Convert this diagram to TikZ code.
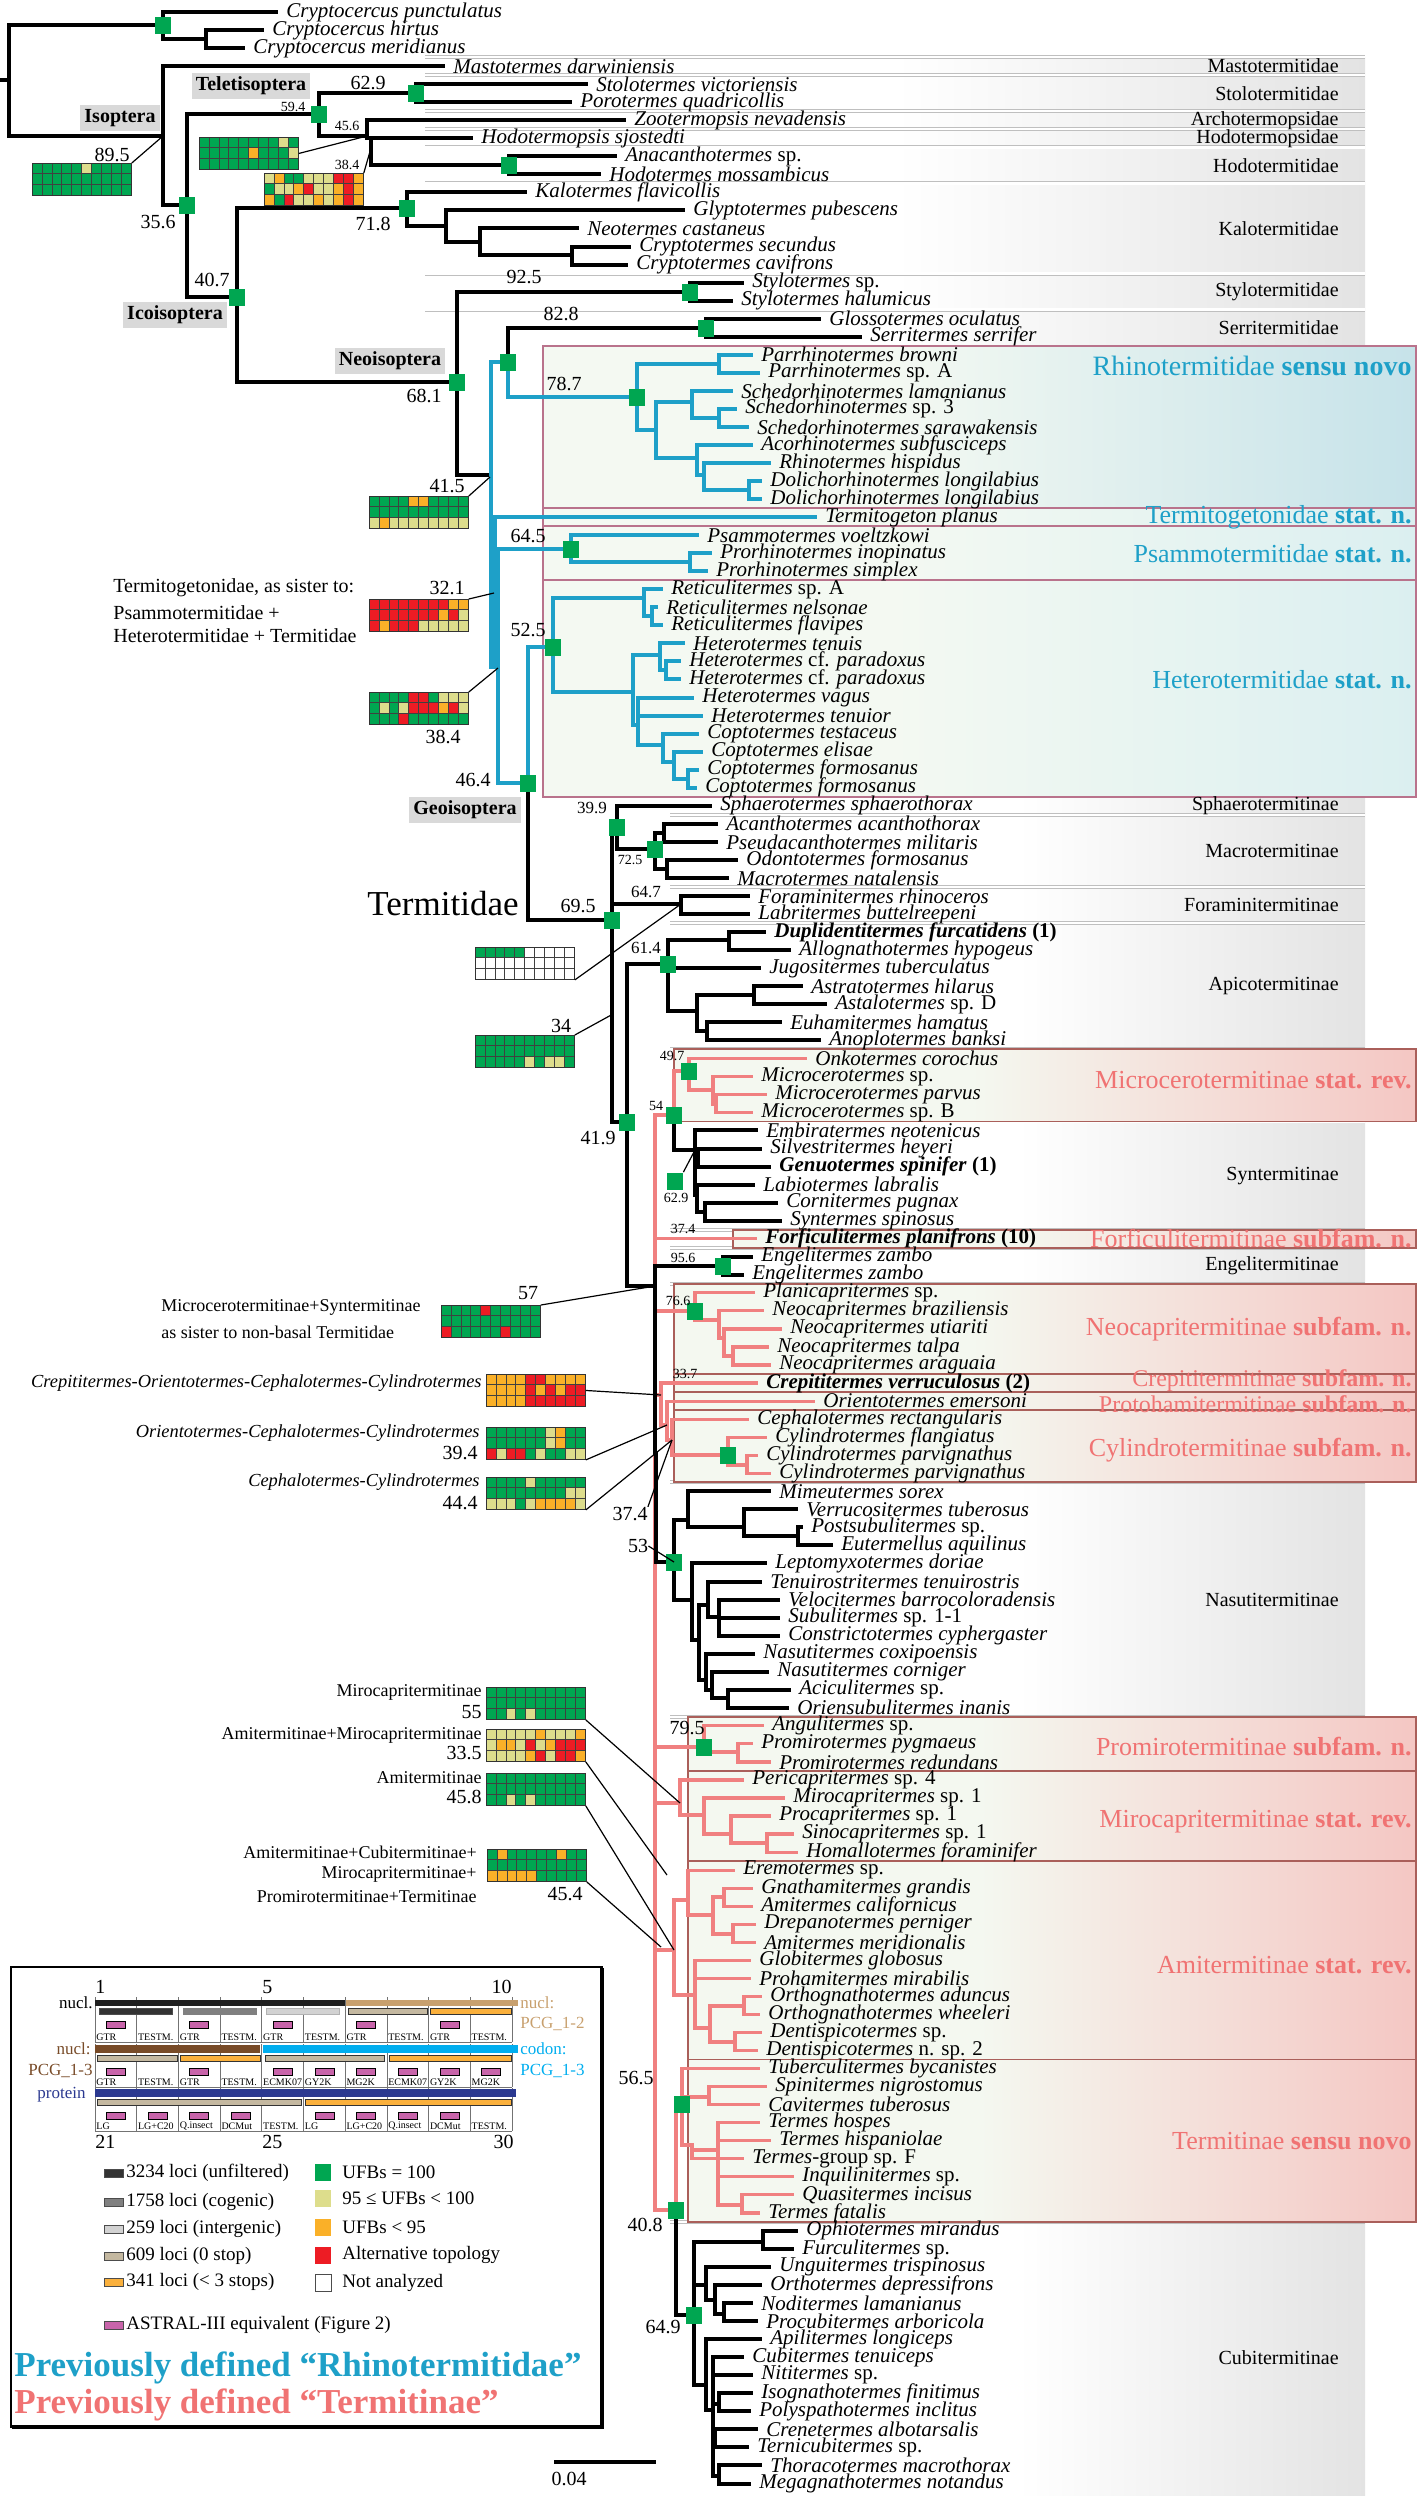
\documentclass[tikz,border=0pt]{standalone}
\usepackage{fontspec}
\setmainfont{Liberation Serif}
\usepackage{tikz}
\usetikzlibrary{calc}
\definecolor{ufbG}{RGB}{0,166,81}
\definecolor{ufbY}{RGB}{221,221,140}
\definecolor{ufbO}{RGB}{250,176,40}
\definecolor{ufbR}{RGB}{237,28,36}
\definecolor{ufbW}{RGB}{255,255,255}
\definecolor{rhino}{RGB}{30,160,200}
\definecolor{termi}{RGB}{240,128,128}
\definecolor{termitext}{RGB}{240,115,115}
\definecolor{tealL}{RGB}{244,249,242}
\definecolor{tealR}{RGB}{160,208,226}
\definecolor{tealRb}{RGB}{198,231,239}
\definecolor{pinkL}{RGB}{244,248,240}
\definecolor{pinkR}{RGB}{244,158,158}
\definecolor{tealedge}{RGB}{185,115,140}
\definecolor{pinkedge}{RGB}{170,95,90}
\definecolor{labgrey}{RGB}{217,217,217}
\definecolor{lociA}{RGB}{51,51,51}
\definecolor{lociB}{RGB}{128,128,128}
\definecolor{lociC}{RGB}{210,210,210}
\definecolor{lociD}{RGB}{196,184,160}
\definecolor{lociE}{RGB}{250,176,60}
\definecolor{nuclbrown}{RGB}{120,75,40}
\definecolor{nucltan}{RGB}{200,160,110}
\definecolor{codoncyan}{RGB}{0,174,239}
\definecolor{protnavy}{RGB}{43,57,144}
\definecolor{astral}{RGB}{200,100,170}
\pgfdeclarehorizontalshading{greyband}{100bp}{color(0bp)=(white); color(50bp)=(white); color(82bp)=(black!14); color(100bp)=(black!48)}
\pgfdeclarehorizontalshading{tealbandA}{100bp}{color(0bp)=(tealL); color(45bp)=(tealL); color(100bp)=(tealR)}
\pgfdeclarehorizontalshading{tealbandB}{100bp}{color(0bp)=(tealL); color(45bp)=(tealL); color(100bp)=(tealRb)}
\pgfdeclarehorizontalshading{pinkband}{100bp}{color(0bp)=(pinkL); color(45bp)=(pinkL); color(100bp)=(pinkR)}
\tikzstyle{br} = [line width=2pt, line cap=rect]
\tikzstyle{brt} = [line width=2pt, line cap=rect, rhino]
\tikzstyle{brp} = [line width=1.6pt, line cap=rect, termi]
\tikzstyle{taxon} = [anchor=west, inner xsep=5pt, inner ysep=0pt, font=\fontsize{10.5}{12}\selectfont\itshape]
\tikzstyle{ufb} = [fill=ufbG, minimum width=8pt, minimum height=8.5pt, inner sep=0pt]
\tikzstyle{sv} = [inner sep=0pt, font=\fontsize{10}{12}\selectfont]
\tikzstyle{svm} = [inner sep=0pt, font=\fontsize{8.5}{10}\selectfont]
\tikzstyle{svs} = [inner sep=0pt, font=\fontsize{7}{8}\selectfont]
\tikzstyle{lead} = [line width=0.6pt]
\tikzstyle{fam} = [anchor=east, inner sep=0pt, font=\fontsize{10}{12}\selectfont]
\tikzstyle{clade} = [anchor=east, inner sep=0pt, font=\fontsize{13}{15}\selectfont]
\tikzstyle{rank} = [fill=labgrey, inner sep=2pt, font=\fontsize{10}{12}\selectfont\bfseries]
\tikzstyle{gridframe} = [draw=black!80, line width=0.4pt, minimum width=49.5pt, minimum height=16.05pt, inner sep=0pt, anchor=north west]
\tikzstyle{gridline} = [black!75, line width=0.3pt]
\tikzstyle{remark} = [inner sep=0pt, font=\fontsize{9}{11}\selectfont]
\tikzstyle{remarkit} = [inner sep=0pt, anchor=east, font=\fontsize{9.2}{11}\selectfont\itshape]
\tikzstyle{bandsep} = [draw=black!25, double=white, double distance=1.2pt, line width=0.4pt]
\tikzstyle{rhinobox} = [draw=tealedge, line width=0.9pt, shade, shading=tealbandB]
\tikzstyle{termbox} = [draw=pinkedge, line width=0.9pt, shade, shading=pinkband]
\tikzstyle{cellline} = [black!55, line width=0.4pt]
\tikzstyle{cellab} = [anchor=west, inner sep=0pt, font=\fontsize{5}{6}\selectfont]
\tikzstyle{legtext} = [anchor=west, inner sep=0pt, font=\fontsize{9.5}{11}\selectfont]
\tikzstyle{bartext} = [inner sep=0pt, font=\fontsize{8.5}{10}\selectfont]
\newcommand{\ly}[1]{12+18.04*(#1-1)}
\newcommand{\lb}[1]{2.98+18.04*(#1)}
\newcommand{\tleaf}[3]{\node[taxon] (t#1) at (#2,{\ly{#1}}) {#3};}
\newcommand{\gridrow}[3]{\foreach \c [count=\i from 0] in {#3}{\fill[fill=ufb\c] ({#1+9.9*\i},{#2}) rectangle +(9.9,10.7);}}
\newcommand{\ufbgrid}[6]{%
  \gridrow{#2}{#3}{#4}\gridrow{#2}{#3+10.7}{#5}\gridrow{#2}{#3+21.4}{#6}%
  \foreach \k in {1,...,9}{\draw[gridline] ({#2+9.9*\k},{#3}) -- +(0,32.1);}%
  \draw[gridline] ({#2},{#3+10.7}) -- +(99,0) ({#2},{#3+21.4}) -- +(99,0);%
  \node[gridframe] (#1) at (#2,#3) {};}
\newcommand{\astralbox}[2]{\filldraw[fill=astral,draw=black,line width=0.3pt] ({#1-9.5},{#2}) rectangle ({#1+9.5},{#2+7});}

\begin{document}
\begin{tikzpicture}[x=0.5pt,y=-0.5pt]
\useasboundingbox (0,0) rectangle (1419,2496);

\path[shade, shading=greyband] (425,{\lb{3}}) rectangle (1365,{\lb{19}});
\path[shade, shading=greyband] (670,{\lb{44}}) rectangle (1365,2496);
\foreach \b in {3,4,6,7,8,10,15,17}{\draw[bandsep] (425,{\lb{\b}}) -- (1365,{\lb{\b}});}
\foreach \b in {45,49,51,58,62,68,69,71,82,95,123}{\draw[bandsep] (670,{\lb{\b}}) -- (1365,{\lb{\b}});}

\path[rhinobox, shading=tealbandA] (543,{\lb{19}}) rectangle (1416,{\lb{28}});
\path[rhinobox] (543,{\lb{28}}) rectangle (1416,{\lb{29}});
\path[rhinobox] (543,{\lb{29}}) rectangle (1416,{\lb{32}});
\path[rhinobox] (543,{\lb{32}}) rectangle (1416,{\lb{44}});
\path[termbox] (674,{\lb{58}}) rectangle (1416,{\lb{62}});
\path[termbox] (733,{\lb{68}}) rectangle (1416,{\lb{69}});
\path[termbox] (674,{\lb{71}}) rectangle (1416,{\lb{76}});
\path[termbox] (674,{\lb{76}}) rectangle (1416,{\lb{77}});
\path[termbox] (674,{\lb{77}}) rectangle (1416,{\lb{78}});
\path[termbox] (674,{\lb{78}}) rectangle (1416,{\lb{82}});
\path[termbox] (688,{\lb{95}}) rectangle (1416,{\lb{98}});
\path[termbox] (688,{\lb{98}}) rectangle (1416,{\lb{103}});
\path[termbox] (688,{\lb{103}}) rectangle (1416,{\lb{114}});
\path[termbox] (688,{\lb{114}}) rectangle (1416,{\lb{123}});

\node[fam] (fMas) at (1339,{\ly{4}}) {Mastotermitidae};
\node[fam] (fSto) at (1339,{\ly{5.5}}) {Stolotermitidae};
\node[fam] (fArc) at (1339,{\ly{7}}) {Archotermopsidae};
\node[fam] (fHdp) at (1339,{\ly{8}}) {Hodotermopsidae};
\node[fam] (fHod) at (1339,{\ly{9.5}}) {Hodotermitidae};
\node[fam] (fKal) at (1339,{\ly{13}}) {Kalotermitidae};
\node[fam] (fSty) at (1339,{\ly{16.5}}) {Stylotermitidae};
\node[fam] (fSer) at (1339,{\ly{18.5}}) {Serritermitidae};
\node[fam] (fSph) at (1339,{\ly{45}}) {Sphaerotermitinae};
\node[fam] (fMac) at (1339,{\ly{47.5}}) {Macrotermitinae};
\node[fam] (fFor) at (1339,{\ly{50.5}}) {Foraminitermitinae};
\node[fam] (fApi) at (1339,{\ly{55}}) {Apicotermitinae};
\node[fam] (fSyn) at (1339,{\ly{65.5}}) {Syntermitinae};
\node[fam] (fEng) at (1339,{\ly{70.5}}) {Engelitermitinae};
\node[fam] (fNas) at (1339,{\ly{89}}) {Nasutitermitinae};
\node[fam] (fCub) at (1339,{\ly{131}}) {Cubitermitinae};

\node[clade, text=rhino, font=\fontsize{14}{16}\selectfont] (cRhi) at (1412,366) {Rhinotermitidae \textbf{sensu novo}};
\node[clade, text=rhino] (cTeg) at (1412,{\ly{29}}) {Termitogetonidae \textbf{stat. n.}};
\node[clade, text=rhino] (cPsa) at (1412,{\ly{31}}) {Psammotermitidae \textbf{stat. n.}};
\node[clade, text=rhino] (cHet) at (1412,{\ly{38}}) {Heterotermitidae \textbf{stat. n.}};
\node[clade, text=termitext] (cMic) at (1412,1080) {Microcerotermitinae \textbf{stat. rev.}};
\node[clade, text=termitext] (cFor) at (1412,{\ly{69}}) {Forficulitermitinae \textbf{subfam. n.}};
\node[clade, text=termitext] (cNeo) at (1412,{\ly{74}}) {Neocapritermitinae \textbf{subfam. n.}};
\node[clade, text=termitext, font=\fontsize{12}{14}\selectfont] (cCre) at (1412,1381) {Crepititermitinae \textbf{subfam. n.}};
\node[clade, text=termitext, font=\fontsize{12}{14}\selectfont] (cPro) at (1412,1404) {Protohamitermitinae \textbf{subfam. n.}};
\node[clade, text=termitext] (cCyl) at (1412,1450) {Cylindrotermitinae \textbf{subfam. n.}};
\node[clade, text=termitext] (cPmi) at (1412,1747) {Promirotermitinae \textbf{subfam. n.}};
\node[clade, text=termitext] (cMir) at (1412,1822) {Mirocapritermitinae \textbf{stat. rev.}};
\node[clade, text=termitext] (cAmi) at (1412,1965) {Amitermitinae \textbf{stat. rev.}};
\node[clade, text=termitext] (cTer) at (1412,{\ly{119}}) {Termitinae \textbf{sensu novo}};

\tleaf{1}{276}{Cryptocercus punctulatus}
\tleaf{2}{262}{Cryptocercus hirtus}
\tleaf{3}{243}{Cryptocercus meridianus}
\tleaf{4}{443}{Mastotermes darwiniensis}
\tleaf{5}{586}{Stolotermes victoriensis}
\tleaf{6}{570}{Porotermes quadricollis}
\tleaf{7}{624}{Zootermopsis nevadensis}
\tleaf{8}{471}{Hodotermopsis sjostedti}
\tleaf{9}{615}{Anacanthotermes \textup{sp.}}
\tleaf{10}{599}{Hodotermes mossambicus}
\tleaf{11}{525}{Kalotermes flavicollis}
\tleaf{12}{683}{Glyptotermes pubescens}
\tleaf{13}{577}{Neotermes castaneus}
\tleaf{14}{629}{Cryptotermes secundus}
\tleaf{15}{626}{Cryptotermes cavifrons}
\tleaf{16}{742}{Stylotermes \textup{sp.}}
\tleaf{17}{731}{Stylotermes halumicus}
\tleaf{18}{819}{Glossotermes oculatus}
\tleaf{19}{860}{Serritermes serrifer}
\tleaf{20}{751}{Parrhinotermes browni}
\tleaf{21}{758}{Parrhinotermes \textup{sp. A}}
\tleaf{22}{731}{Schedorhinotermes lamanianus}
\tleaf{23}{735}{Schedorhinotermes \textup{sp. 3}}
\tleaf{24}{747}{Schedorhinotermes sarawakensis}
\tleaf{25}{751}{Acorhinotermes subfusciceps}
\tleaf{26}{769}{Rhinotermes hispidus}
\tleaf{27}{760}{Dolichorhinotermes longilabius}
\tleaf{28}{760}{Dolichorhinotermes longilabius}
\tleaf{29}{815}{Termitogeton planus}
\tleaf{30}{697}{Psammotermes voeltzkowi}
\tleaf{31}{710}{Prorhinotermes inopinatus}
\tleaf{32}{706}{Prorhinotermes simplex}
\tleaf{33}{661}{Reticulitermes \textup{sp. A}}
\tleaf{34}{656}{Reticulitermes nelsonae}
\tleaf{35}{661}{Reticulitermes flavipes}
\tleaf{36}{683}{Heterotermes tenuis}
\tleaf{37}{679}{Heterotermes \textup{cf.} paradoxus}
\tleaf{38}{679}{Heterotermes \textup{cf.} paradoxus}
\tleaf{39}{692}{Heterotermes vagus}
\tleaf{40}{701}{Heterotermes tenuior}
\tleaf{41}{697}{Coptotermes testaceus}
\tleaf{42}{701}{Coptotermes elisae}
\tleaf{43}{697}{Coptotermes formosanus}
\tleaf{44}{695}{Coptotermes formosanus}
\tleaf{45}{710}{Sphaerotermes sphaerothorax}
\tleaf{46}{716}{Acanthotermes acanthothorax}
\tleaf{47}{716}{Pseudacanthotermes militaris}
\tleaf{48}{736}{Odontotermes formosanus}
\tleaf{49}{727}{Macrotermes natalensis}
\tleaf{50}{748}{Foraminitermes rhinoceros}
\tleaf{51}{748}{Labritermes buttelreepeni}
\tleaf{52}{764}{\textbf{Duplidentitermes furcatidens \textup{(1)}}}
\tleaf{53}{789}{Allognathotermes hypogeus}
\tleaf{54}{759}{Jugositermes tuberculatus}
\tleaf{55}{801}{Astratotermes hilarus}
\tleaf{56}{825}{Astalotermes \textup{sp. D}}
\tleaf{57}{780}{Euhamitermes hamatus}
\tleaf{58}{819}{Anoplotermes banksi}
\tleaf{59}{805}{Onkotermes corochus}
\tleaf{60}{751}{Microcerotermes \textup{sp.}}
\tleaf{61}{765}{Microcerotermes parvus}
\tleaf{62}{751}{Microcerotermes \textup{sp. B}}
\tleaf{63}{756}{Embiratermes neotenicus}
\tleaf{64}{760}{Silvestritermes heyeri}
\tleaf{65}{769}{\textbf{Genuotermes spinifer \textup{(1)}}}
\tleaf{66}{753}{Labiotermes labralis}
\tleaf{67}{776}{Cornitermes pugnax}
\tleaf{68}{780}{Syntermes spinosus}
\tleaf{69}{755}{\textbf{Forficulitermes planifrons \textup{(10)}}}
\tleaf{70}{751}{Engelitermes zambo}
\tleaf{71}{742}{Engelitermes zambo}
\tleaf{72}{753}{Planicapritermes \textup{sp.}}
\tleaf{73}{762}{Neocapritermes braziliensis}
\tleaf{74}{780}{Neocapritermes utiariti}
\tleaf{75}{767}{Neocapritermes talpa}
\tleaf{76}{769}{Neocapritermes araguaia}
\tleaf{77}{756}{\textbf{Crepititermes verruculosus \textup{(2)}}}
\tleaf{78}{813}{Orientotermes emersoni}
\tleaf{79}{747}{Cephalotermes rectangularis}
\tleaf{80}{765}{Cylindrotermes flangiatus}
\tleaf{81}{756}{Cylindrotermes parvignathus}
\tleaf{82}{769}{Cylindrotermes parvignathus}
\tleaf{83}{769}{Mimeutermes sorex}
\tleaf{84}{796}{Verrucositermes tuberosus}
\tleaf{85}{801}{Postsubulitermes \textup{sp.}}
\tleaf{86}{831}{Eutermellus aquilinus}
\tleaf{87}{765}{Leptomyxotermes doriae}
\tleaf{88}{760}{Tenuirostritermes tenuirostris}
\tleaf{89}{778}{Velocitermes barrocoloradensis}
\tleaf{90}{778}{Subulitermes \textup{sp. 1-1}}
\tleaf{91}{778}{Constrictotermes cyphergaster}
\tleaf{92}{753}{Nasutitermes coxipoensis}
\tleaf{93}{767}{Nasutitermes corniger}
\tleaf{94}{789}{Aciculitermes \textup{sp.}}
\tleaf{95}{787}{Oriensubulitermes inanis}
\tleaf{96}{762}{Angulitermes \textup{sp.}}
\tleaf{97}{751}{Promirotermes pygmaeus}
\tleaf{98}{769}{Promirotermes redundans}
\tleaf{99}{742}{Pericapritermes \textup{sp. 4}}
\tleaf{100}{783}{Mirocapritermes \textup{sp. 1}}
\tleaf{101}{769}{Procapritermes \textup{sp. 1}}
\tleaf{102}{792}{Sinocapritermes \textup{sp. 1}}
\tleaf{103}{796}{Homallotermes foraminifer}
\tleaf{104}{733}{Eremotermes \textup{sp.}}
\tleaf{105}{751}{Gnathamitermes grandis}
\tleaf{106}{751}{Amitermes californicus}
\tleaf{107}{754}{Drepanotermes perniger}
\tleaf{108}{754}{Amitermes meridionalis}
\tleaf{109}{749}{Globitermes globosus}
\tleaf{110}{749}{Prohamitermes mirabilis}
\tleaf{111}{760}{Orthognathotermes aduncus}
\tleaf{112}{758}{Orthognathotermes wheeleri}
\tleaf{113}{760}{Dentispicotermes \textup{sp.}}
\tleaf{114}{756}{Dentispicotermes \textup{n. sp. 2}}
\tleaf{115}{758}{Tuberculitermes bycanistes}
\tleaf{116}{765}{Spinitermes nigrostomus}
\tleaf{117}{758}{Cavitermes tuberosus}
\tleaf{118}{758}{Termes hospes}
\tleaf{119}{769}{Termes hispaniolae}
\tleaf{120}{742}{Termes\textup{-group sp. F}}
\tleaf{121}{792}{Inquilinitermes \textup{sp.}}
\tleaf{122}{792}{Quasitermes incisus}
\tleaf{123}{758}{Termes fatalis}
\tleaf{124}{796}{Ophiotermes mirandus}
\tleaf{125}{792}{Furculitermes \textup{sp.}}
\tleaf{126}{769}{Unguitermes trispinosus}
\tleaf{127}{760}{Orthotermes depressifrons}
\tleaf{128}{751}{Noditermes lamanianus}
\tleaf{129}{756}{Procubitermes arboricola}
\tleaf{130}{760}{Apilitermes longiceps}
\tleaf{131}{742}{Cubitermes tenuiceps}
\tleaf{132}{751}{Nititermes \textup{sp.}}
\tleaf{133}{751}{Isognathotermes finitimus}
\tleaf{134}{749}{Polyspathotermes inclitus}
\tleaf{135}{756}{Crenetermes albotarsalis}
\tleaf{136}{747}{Ternicubitermes \textup{sp.}}
\tleaf{137}{760}{Thoracotermes macrothorax}
\tleaf{138}{749}{Megagnathotermes notandus}

\coordinate (R0) at (0,80);
\coordinate (R) at (9,80);
\coordinate (C0) at (163,25);
\coordinate (C1) at (206,39);
\coordinate (I) at (163,136);
\coordinate (n356) at (187,205);
\coordinate (n594) at (319,114);
\coordinate (Sto) at (416,93);
\coordinate (n456) at (367,136);
\coordinate (n384) at (371,138);
\coordinate (Hod) at (509,165);
\coordinate (Ico) at (237,297);
\coordinate (Kal) at (407,208);
\coordinate (K1) at (446,226);
\coordinate (K2) at (480,242);
\coordinate (K3) at (572,255);
\coordinate (Neo) at (457,382);
\coordinate (Sty) at (690,292);
\coordinate (n415) at (491,475);
\coordinate (SR) at (508,362);
\coordinate (Ser) at (706,328);
\coordinate (Rh) at (637,397);
\coordinate (Rh1) at (719,364);
\coordinate (Rh2) at (656,430);
\coordinate (Rh3) at (692,402);
\coordinate (Rh4) at (719,418);
\coordinate (Rh5) at (697,458);
\coordinate (Rh6) at (704,475);
\coordinate (Rh7) at (749,490);
\coordinate (n321) at (495,667);
\coordinate (n384b) at (498,667);
\coordinate (Ps) at (571,549);
\coordinate (Ps1) at (690,562);
\coordinate (n464) at (528,783);
\coordinate (He) at (553,647);
\coordinate (Re) at (644,598);
\coordinate (Re1) at (652,616);
\coordinate (HX) at (633,692);
\coordinate (H1) at (660,655);
\coordinate (H1b) at (666,670);
\coordinate (H2) at (638,725);
\coordinate (Co) at (663,745);
\coordinate (Co1) at (674,762);
\coordinate (Co2) at (688,779);
\coordinate (T) at (612,920);
\coordinate (S39) at (617,827);
\coordinate (Ma) at (655,849);
\coordinate (Ma1) at (664,833);
\coordinate (Ma2) at (667,869);
\coordinate (Fo) at (681,904);
\coordinate (n419) at (627,1122);
\coordinate (Ap) at (668,964);
\coordinate (Ap1) at (729,940);
\coordinate (Ap2) at (697,1011);
\coordinate (Ap3) at (754,995);
\coordinate (Ap4) at (707,1031);
\coordinate (B) at (655,1286);
\coordinate (n54) at (674,1115);
\coordinate (Mc) at (689,1071);
\coordinate (Mc1) at (713,1090);
\coordinate (Mc2) at (716,1104);
\coordinate (Sy) at (695,1150);
\coordinate (Sy1) at (698,1158);
\coordinate (Sy2) at (697,1195);
\coordinate (Sy3) at (705,1212);
\coordinate (En) at (723,1266);
\coordinate (Nc) at (695,1311);
\coordinate (Nc1) at (719,1320);
\coordinate (Nc2) at (724,1338);
\coordinate (Nc3) at (733,1356);
\coordinate (CO) at (661,1395);
\coordinate (OC) at (667,1425);
\coordinate (CC) at (672,1440);
\coordinate (Cy) at (728,1455);
\coordinate (Cy1) at (747,1465);
\coordinate (K374) at (656,1453);
\coordinate (Na) at (674,1562);
\coordinate (Na1) at (688,1520);
\coordinate (Na1b) at (744,1527);
\coordinate (Na1c) at (798,1536);
\coordinate (Na2) at (692,1600);
\coordinate (Na2b) at (699,1640);
\coordinate (Na3) at (708,1605);
\coordinate (Na3b) at (719,1617);
\coordinate (Na4) at (706,1680);
\coordinate (Na4b) at (712,1690);
\coordinate (Na4c) at (728,1698);
\coordinate (Pr) at (704,1747);
\coordinate (Pr1) at (738,1752);
\coordinate (Mi) at (680,1803);
\coordinate (Mi1) at (704,1815);
\coordinate (Mi2) at (731,1834);
\coordinate (Mi3) at (767,1843);
\coordinate (Am) at (674,1950);
\coordinate (Am1) at (688,1900);
\coordinate (Am1b) at (713,1915);
\coordinate (Am1c) at (724,1897);
\coordinate (Am1d) at (733,1934);
\coordinate (Am2) at (695,1995);
\coordinate (Am2b) at (710,2028);
\coordinate (Am2c) at (744,2006);
\coordinate (Am2d) at (735,2042);
\coordinate (N408) at (676,2210);
\coordinate (Te) at (682,2104);
\coordinate (Te1) at (709,2097);
\coordinate (Te2) at (692,2145);
\coordinate (Te3) at (718,2150);
\coordinate (Te4) at (742,2205);
\coordinate (Cu) at (694,2315);
\coordinate (Cu1) at (763,2242);
\coordinate (Cu2) at (706,2285);
\coordinate (Cu2b) at (715,2300);
\coordinate (Cu2c) at (724,2314);
\coordinate (Cu3) at (706,2385);
\coordinate (Cu3b) at (713,2410);
\coordinate (Cu3c) at (719,2404);
\coordinate (Cu3d) at (715,2440);
\coordinate (Cu3e) at (719,2476);

\draw[br] (R0) -- (R) (R) |- (C0) (R) |- (I)
  (C0) |- (t1.west) (C0) |- (C1) (C1) |- (t2.west) (C1) |- (t3.west)
  (I) |- (t4.west) (I) |- (n356) (n356) |- (n594) (n356) |- (Ico)
  (n594) |- (Sto) (n594) |- (n456) (Sto) |- (t5.west) (Sto) |- (t6.west)
  (n456) |- (t7.west) (n456) |- (n384) (n384) |- (t8.west) (n384) |- (Hod)
  (Hod) |- (t9.west) (Hod) |- (t10.west)
  (Ico) |- (Kal) (Ico) |- (Neo) (Kal) |- (t11.west) (Kal) |- (K1)
  (K1) |- (t12.west) (K1) |- (K2) (K2) |- (t13.west) (K2) |- (K3)
  (K3) |- (t14.west) (K3) |- (t15.west)
  (Neo) |- (Sty) (Neo) |- (n415) (Sty) |- (t16.west) (Sty) |- (t17.west)
  (SR) |- (Ser) (Ser) |- (t18.west) (Ser) |- (t19.west);
\draw[brt] (n415) |- (SR) (n415) |- (n321) (SR) |- (Rh)
  (Rh) |- (Rh1) (Rh) |- (Rh2) (Rh1) |- (t20.west) (Rh1) |- (t21.west)
  (Rh2) |- (Rh3) (Rh2) |- (Rh5) (Rh3) |- (t22.west) (Rh3) |- (Rh4) (Rh4) |- (t23.west) (Rh4) |- (t24.west)
  (Rh5) |- (t25.west) (Rh5) |- (Rh6) (Rh6) |- (t26.west) (Rh6) |- (Rh7) (Rh7) |- (t27.west) (Rh7) |- (t28.west)
  (n321) |- (t29.west) (n321) |- (n384b) (n384b) |- (Ps) (n384b) |- (n464)
  (Ps) |- (t30.west) (Ps) |- (Ps1) (Ps1) |- (t31.west) (Ps1) |- (t32.west)
  (n464) |- (He) (He) |- (Re) (He) |- (HX) (Re) |- (t33.west) (Re) |- (Re1) (Re1) |- (t34.west) (Re1) |- (t35.west)
  (HX) |- (H1) (HX) |- (H2) (H1) |- (t36.west) (H1) |- (H1b) (H1b) |- (t37.west) (H1b) |- (t38.west)
  (H2) |- (t39.west) (H2) |- (t40.west) (H2) |- (Co) (Co) |- (t41.west) (Co) |- (Co1)
  (Co1) |- (t42.west) (Co1) |- (Co2) (Co2) |- (t43.west) (Co2) |- (t44.west);
\draw[br] (n464) |- (T) (T) |- (S39) (T) |- (Fo) (T) |- (n419)
  (S39) |- (t45.west) (S39) |- (Ma) (Ma) |- (Ma1) (Ma) |- (Ma2)
  (Ma1) |- (t46.west) (Ma1) |- (t47.west) (Ma2) |- (t48.west) (Ma2) |- (t49.west)
  (Fo) |- (t50.west) (Fo) |- (t51.west)
  (n419) |- (Ap) (n419) |- (B) (Ap) |- (Ap1) (Ap) |- (t54.west) (Ap) |- (Ap2)
  (Ap1) |- (t52.west) (Ap1) |- (t53.west) (Ap2) |- (Ap3) (Ap2) |- (Ap4)
  (Ap3) |- (t55.west) (Ap3) |- (t56.west) (Ap4) |- (t57.west) (Ap4) |- (t58.west);
\draw[brp] (B) |- (n54) (B) |- (t69.west) (B) |- (Nc) (B) |- (CO) (B) |- (Pr) (B) |- (Mi) (B) |- (Am) (B) |- (N408)
  (n54) |- (Mc) (Mc) |- (t59.west) (Mc) |- (Mc1) (Mc1) |- (t60.west) (Mc1) |- (Mc2) (Mc2) |- (t61.west) (Mc2) |- (t62.west)
  (Nc) |- (t72.west) (Nc) |- (Nc1) (Nc1) |- (t73.west) (Nc1) |- (Nc2) (Nc2) |- (t74.west) (Nc2) |- (Nc3)
  (Nc3) |- (t75.west) (Nc3) |- (t76.west)
  (CO) |- (t77.west) (CO) |- (OC) (OC) |- (t78.west) (OC) |- (CC) (CC) |- (t79.west) (CC) |- (Cy)
  (Cy) |- (t80.west) (Cy) |- (Cy1) (Cy1) |- (t81.west) (Cy1) |- (t82.west)
  (Pr) |- (t96.west) (Pr) |- (Pr1) (Pr1) |- (t97.west) (Pr1) |- (t98.west)
  (Mi) |- (t99.west) (Mi) |- (Mi1) (Mi1) |- (t100.west) (Mi1) |- (Mi2) (Mi2) |- (t101.west) (Mi2) |- (Mi3)
  (Mi3) |- (t102.west) (Mi3) |- (t103.west)
  (Am) |- (Am1) (Am) |- (Am2) (Am1) |- (t104.west) (Am1) |- (Am1b) (Am1b) |- (Am1c) (Am1b) |- (Am1d)
  (Am1c) |- (t105.west) (Am1c) |- (t106.west) (Am1d) |- (t107.west) (Am1d) |- (t108.west)
  (Am2) |- (t109.west) (Am2) |- (t110.west) (Am2) |- (Am2b) (Am2b) |- (Am2c) (Am2b) |- (Am2d)
  (Am2c) |- (t111.west) (Am2c) |- (t112.west) (Am2d) |- (t113.west) (Am2d) |- (t114.west)
  (N408) |- (Te) (Te) |- (t115.west) (Te) |- (Te1) (Te) |- (Te2) (Te1) |- (t116.west) (Te1) |- (t117.west)
  (Te2) |- (Te3) (Te2) |- (t120.west) (Te3) |- (t118.west) (Te3) |- (t119.west) (Te3) |- (t121.west) (Te3) |- (Te4)
  (Te4) |- (t122.west) (Te4) |- (t123.west);
\draw[br] (B) |- (En) (En) |- (t70.west) (En) |- (t71.west)
  (n54) |- (Sy) (Sy) |- (t63.west) (Sy) |- (Sy1) (Sy) |- (Sy2) (Sy1) |- (t64.west) (Sy1) |- (t65.west)
  (Sy2) |- (t66.west) (Sy2) |- (Sy3) (Sy3) |- (t67.west) (Sy3) |- (t68.west)
  (B) |- (K374) (K374) |- (Na)
  (Na) |- (Na1) (Na) |- (Na2) (Na1) |- (t83.west) (Na1) |- (Na1b) (Na1b) |- (t84.west) (Na1b) |- (Na1c)
  (Na1c) |- (t85.west) (Na1c) |- (t86.west)
  (Na2) |- (t87.west) (Na2) |- (Na2b) (Na2b) |- (Na3) (Na2b) |- (Na4) (Na3) |- (t88.west) (Na3) |- (Na3b)
  (Na3b) |- (t89.west) (Na3b) |- (t90.west) (Na3b) |- (t91.west)
  (Na4) |- (t92.west) (Na4) |- (Na4b) (Na4b) |- (t93.west) (Na4b) |- (Na4c) (Na4c) |- (t94.west) (Na4c) |- (t95.west)
  (N408) |- (Cu) (Cu) |- (Cu1) (Cu) |- (Cu2) (Cu) |- (Cu3) (Cu1) |- (t124.west) (Cu1) |- (t125.west)
  (Cu2) |- (t126.west) (Cu2) |- (Cu2b) (Cu2b) |- (t127.west) (Cu2b) |- (Cu2c) (Cu2c) |- (t128.west) (Cu2c) |- (t129.west)
  (Cu3) |- (t130.west) (Cu3) |- (Cu3b) (Cu3b) |- (t131.west) (Cu3b) |- (t132.west) (Cu3b) |- (Cu3c) (Cu3b) |- (Cu3d) (Cu3b) |- (Cu3e)
  (Cu3c) |- (t133.west) (Cu3c) |- (t134.west) (Cu3d) |- (t135.west) (Cu3d) |- (t136.west) (Cu3e) |- (t137.west) (Cu3e) |- (t138.west);

\foreach \q in {C0,n356,n594,Sto,Hod,Kal,Ico,Sty,Neo,Ser,SR,Rh,Ps,He,n464,T,S39,Ma,Ap,n419,n54,Mc,En,Nc,Cy,Na,Pr,Te,N408,Cu}{\node[ufb] (q\q) at (\q) {};}
\node[ufb] (qSy) at (675,1181) {};
\draw[lead] (qSy.north east) -- (Sy);

\node[rank] (rIso) at (120,118) {Isoptera};
\node[rank] (rTel) at (251,86) {Teletisoptera};
\node[rank] (rIco) at (175,315) {Icoisoptera};
\node[rank] (rNeo) at (390,361) {Neoisoptera};
\node[rank] (rGeo) at (465,810) {Geoisoptera};
\node[inner sep=0pt, font=\fontsize{17.5}{20}\selectfont] (lTer) at (443,904) {Termitidae};

\node[sv] (v895) at (112,155) {89.5};
\node[sv] (v356) at (158,222) {35.6};
\node[sv] (v629a) at (368,83) {62.9};
\node[svs] (v594) at (293,107) {59.4};
\node[svs] (v456) at (347,126) {45.6};
\node[svs] (v384a) at (347,165) {38.4};
\node[sv] (v718) at (373,224) {71.8};
\node[sv] (v407) at (212,280) {40.7};
\node[sv] (v925) at (524,277) {92.5};
\node[sv] (v828) at (561,314) {82.8};
\node[sv] (v681) at (424,396) {68.1};
\node[sv] (v787) at (564,384) {78.7};
\node[sv] (v415) at (447,486) {41.5};
\node[sv] (v321) at (447,588) {32.1};
\node[sv] (v384) at (443,737) {38.4};
\node[sv] (v645) at (528,536) {64.5};
\node[sv] (v525) at (528,630) {52.5};
\node[sv] (v464) at (473,780) {46.4};
\node[sv] (v695) at (578,906) {69.5};
\node[svm] (v399) at (592,808) {39.9};
\node[svs] (v725) at (630,860) {72.5};
\node[svm] (v647) at (646,892) {64.7};
\node[svm] (v614) at (646,948) {61.4};
\node[sv] (v34) at (561,1026) {34};
\node[sv] (v419) at (598,1138) {41.9};
\node[svs] (v497) at (672,1056) {49.7};
\node[svs] (v54) at (656,1106) {54};
\node[svs] (v629) at (676,1198) {62.9};
\node[svs] (v374a) at (683,1229) {37.4};
\node[svs] (v956) at (683,1258) {95.6};
\node[svs] (v766) at (678,1301) {76.6};
\node[svs] (v337) at (685,1374) {33.7};
\node[sv] (v57) at (528,1293) {57};
\node[sv] (v374) at (630,1514) {37.4};
\node[sv] (v53) at (638,1546) {53};
\node[sv] (v795) at (687,1728) {79.5};
\node[sv] (v565) at (636,2078) {56.5};
\node[sv] (v408) at (645,2225) {40.8};
\node[sv] (v649) at (663,2327) {64.9};

\ufbgrid{g895}{32}{163}{G,G,G,G,G,Y,G,G,G,G}{G,G,G,G,G,G,G,G,G,G}{G,G,G,G,G,G,G,G,G,G}
\ufbgrid{g456}{199}{137}{G,G,G,G,G,G,G,G,Y,G}{G,G,G,G,G,O,G,G,G,Y}{G,G,G,G,G,G,G,G,G,G}
\ufbgrid{g384a}{264}{173}{Y,O,G,G,Y,Y,Y,R,R,O}{G,Y,Y,O,R,Y,Y,O,R,O}{O,G,R,Y,Y,O,Y,O,R,O}
\ufbgrid{g415}{369}{496}{G,G,G,G,O,O,G,G,G,G}{G,G,G,G,G,G,G,G,G,G}{Y,O,Y,Y,Y,Y,Y,Y,Y,Y}
\ufbgrid{g321}{369}{599}{R,R,R,R,R,R,R,R,O,O}{R,R,R,R,R,R,R,O,R,Y}{R,O,R,R,R,Y,Y,Y,Y,Y}
\ufbgrid{g384}{369}{692}{G,G,G,G,R,R,G,Y,Y,Y}{G,Y,G,Y,R,R,R,O,R,Y}{G,G,G,R,G,G,G,G,G,G}
\ufbgrid{g647}{475}{947}{G,G,G,G,G,W,W,W,W,W}{W,W,W,W,W,W,W,W,W,W}{W,W,W,W,W,W,W,W,W,W}
\ufbgrid{g34}{475}{1035}{G,G,G,G,G,G,G,G,G,G}{G,G,G,G,G,G,G,G,G,G}{G,G,G,G,G,Y,G,Y,Y,G}
\ufbgrid{g57}{441}{1305}{G,G,G,G,R,G,G,G,G,G}{G,G,G,G,G,G,G,G,G,G}{R,G,G,G,G,G,R,G,G,G}
\ufbgrid{gCre}{486}{1374}{O,O,O,O,R,R,O,O,O,O}{O,O,O,O,R,O,R,O,R,R}{O,O,O,O,R,R,R,R,R,R}
\ufbgrid{g394}{486}{1427}{G,G,G,G,G,G,Y,O,G,G}{G,G,G,G,G,G,Y,O,G,G}{R,Y,R,R,G,Y,G,G,Y,Y}
\ufbgrid{g444}{486}{1477}{G,G,G,G,Y,G,G,G,G,G}{G,G,G,G,G,G,G,G,Y,Y}{Y,Y,Y,G,Y,O,O,O,O,Y}
\ufbgrid{g55}{486}{1687}{G,G,G,G,G,G,G,G,G,G}{G,G,G,G,G,G,G,G,G,G}{G,G,Y,G,Y,G,G,G,G,G}
\ufbgrid{g335}{486}{1729}{Y,Y,Y,Y,Y,O,Y,Y,Y,O}{Y,O,O,Y,R,Y,O,R,R,R}{Y,Y,Y,Y,O,R,Y,R,R,O}
\ufbgrid{g458}{486}{1773}{G,G,G,G,G,G,G,G,G,G}{G,G,G,G,G,G,G,G,G,G}{G,G,Y,G,Y,G,G,G,G,G}
\ufbgrid{g454}{487}{1849}{G,O,G,G,G,G,G,O,G,G}{G,G,G,G,G,G,G,G,G,G}{O,O,O,O,O,G,G,G,G,G}

\coordinate (p384a) at (371,148);
\coordinate (p415) at (490,477);
\coordinate (p321) at (494,593);
\coordinate (p384) at (498,668);
\coordinate (p34) at (613,1014);
\coordinate (pAmMi) at (667,1875);
\coordinate (p454) at (661,1947);
\draw[lead] (g895.north east) -- (I);
\draw[lead] (g456.east) -- (n456);
\draw[lead] (g384a.north east) -- (p384a);
\draw[lead] (g415.north east) -- (p415);
\draw[lead] (g321.north east) -- (p321);
\draw[lead] (g384.north east) -- (p384);
\draw[lead] (g647.south east) -- (Fo);
\draw[lead] (g34.north east) -- (p34);
\draw[lead] (g57.north east) -- (B);
\draw[lead] (gCre.east) -- (CO);
\draw[lead] (g394.south east) -- (OC);
\draw[lead] (g444.south east) -- (CC);
\draw[lead] (v374.north east) -- (CC);
\draw[lead] (v53.east) -- (Na);
\draw[lead] (g55.south east) -- (Mi);
\draw[lead] (g335.south east) -- (pAmMi);
\draw[lead] (g458.south east) -- (Am);
\draw[lead] (g454.south east) -- (p454);

\node[remark, anchor=west, font=\fontsize{10}{12}\selectfont] (nTg1) at (113,588) {Termitogetonidae, as sister to:};
\node[remark, anchor=west, font=\fontsize{10}{12}\selectfont] (nTg2) at (113,613) {Psammotermitidae +};
\node[remark, anchor=west, font=\fontsize{10}{12}\selectfont] (nTg3) at (113,636) {Heterotermitidae + Termitidae};
\node[remark, anchor=west] (nMS1) at (161,1307) {Microcerotermitinae+Syntermitinae};
\node[remark, anchor=west] (nMS2) at (161,1332) {as sister to non-basal Termitidae};
\node[remarkit] (nCre) at (482,1383) {Crepititermes-Orientotermes-Cephalotermes-Cylindrotermes};
\node[remarkit] (nOCC) at (480,1433) {Orientotermes-Cephalotermes-Cylindrotermes};
\node[sv, anchor=east] (v394) at (478,1453) {39.4};
\node[remarkit] (nCC) at (480,1482) {Cephalotermes-Cylindrotermes};
\node[sv, anchor=east] (v444) at (478,1503) {44.4};
\node[remark, anchor=east] (nMir) at (482,1692) {Mirocapritermitinae};
\node[sv, anchor=east] (v55) at (482,1712) {55};
\node[remark, anchor=east] (nAM) at (482,1735) {Amitermitinae+Mirocapritermitinae};
\node[sv, anchor=east] (v335) at (482,1753) {33.5};
\node[remark, anchor=east] (nAm) at (482,1778) {Amitermitinae};
\node[sv, anchor=east] (v458) at (482,1797) {45.8};
\node[remark, anchor=east] (nA1) at (477,1852) {Amitermitinae+Cubitermitinae+};
\node[remark, anchor=east] (nA2) at (477,1874) {Mirocapritermitinae+};
\node[remark, anchor=east] (nA3) at (477,1897) {Promirotermitinae+Termitinae};
\node[sv] (v454) at (565,1894) {45.4};

\coordinate (sb1) at (554,2462);
\coordinate (sb2) at (656,2462);
\draw[line width=1.6pt] (sb1) -- (sb2);
\node[sv] (lsb) at (569,2479) {0.04};

\draw[line width=0.8pt] (11,1967) rectangle (602,2427);
\draw[line width=1.6pt] (602,1968) -- (602,2427) -- (12,2427);
\foreach \ya/\yb in {1997/2042,2044/2087,2088/2131}{
  \foreach \k in {0,...,10}{\draw[cellline] ({95+41.7*\k},\ya) -- ({95+41.7*\k},\yb);}
  \draw[cellline] (95,\yb) -- (512,\yb);}
\fill[black!88] (95,2000) rectangle (345,2006);
\fill[nucltan] (346,2000) rectangle (518,2006);
\filldraw[fill=lociA,draw=black!70,line width=0.3pt] (99,2008) rectangle (172,2014);
\filldraw[fill=lociB,draw=black!50,line width=0.3pt] (183,2008) rectangle (256,2014);
\filldraw[fill=lociC,draw=black!30,line width=0.3pt] (266,2008) rectangle (339,2014);
\filldraw[fill=lociD,draw=black!80,line width=0.3pt] (348,2008) rectangle (427,2014);
\filldraw[fill=lociE,draw=black!80,line width=0.3pt] (430,2008) rectangle (511,2014);
\fill[nuclbrown] (95,2045) rectangle (260,2053);
\fill[codoncyan] (263,2045) rectangle (518,2053);
\filldraw[fill=lociD,draw=black!80,line width=0.3pt] (97,2055) rectangle (177,2061);
\filldraw[fill=lociE,draw=black!80,line width=0.3pt] (180,2055) rectangle (260,2061);
\filldraw[fill=lociD,draw=black!80,line width=0.3pt] (265,2055) rectangle (384,2061);
\filldraw[fill=lociE,draw=black!80,line width=0.3pt] (389,2055) rectangle (511,2061);
\fill[protnavy] (95,2089) rectangle (516,2097);
\filldraw[fill=lociD,draw=black!80,line width=0.3pt] (97,2099) rectangle (301,2105);
\filldraw[fill=lociE,draw=black!80,line width=0.3pt] (305,2099) rectangle (511,2105);
\foreach \k in {1,3,5,7,9}{\astralbox{95+41.7*(\k-0.5)}{2021}}
\foreach \k in {1,3,5,6,7,8,9,10}{\astralbox{95+41.7*(\k-0.5)}{2068}}
\foreach \k in {1,2,3,4,6,7,8,9}{\astralbox{95+41.7*(\k-0.5)}{2112}}
\foreach \lab [count=\k from 0] in {GTR,TESTM.,GTR,TESTM.,GTR,TESTM.,GTR,TESTM.,GTR,TESTM.}{\node[cellab] (ca\k) at ({96+41.7*\k},2037) {\lab};}
\foreach \lab [count=\k from 0] in {GTR,TESTM.,GTR,TESTM.,ECMK07,GY2K,MG2K,ECMK07,GY2K,MG2K}{\node[cellab] (cb\k) at ({96+41.7*\k},2082) {\lab};}
\foreach \lab [count=\k from 0] in {LG,LG+C20,Q.insect,DCMut,TESTM.,LG,LG+C20,Q.insect,DCMut,TESTM.}{\node[cellab] (cc\k) at ({96+41.7*\k},2126) {\lab};}
\node[bartext, anchor=east] (bNu) at (93,2003) {nucl.};
\node[bartext, anchor=west, text=nucltan] (bT1) at (520,2003) {nucl:};
\node[bartext, anchor=west, text=nucltan] (bT2) at (520,2024) {PCG\_1-2};
\node[bartext, anchor=east, text=nuclbrown] (bB1) at (91,2049) {nucl:};
\node[bartext, anchor=east, text=nuclbrown] (bB2) at (93,2071) {PCG\_1-3};
\node[bartext, anchor=west, text=codoncyan] (bC1) at (520,2049) {codon:};
\node[bartext, anchor=west, text=codoncyan] (bC2) at (520,2071) {PCG\_1-3};
\node[bartext, anchor=east, text=protnavy] (bP) at (86,2095) {protein};
\node[sv, anchor=west] (n1) at (95,1987) {1};
\node[sv, anchor=west] (n5) at (262,1987) {5};
\node[sv, anchor=east] (n10) at (512,1987) {10};
\node[sv, anchor=west] (n21) at (95,2142) {21};
\node[sv, anchor=west] (n25) at (262,2142) {25};
\node[sv, anchor=east] (n30) at (514,2142) {30};

\foreach \y/\col/\txt [count=\k] in {2173/lociA/{3234 loci (unfiltered)},2202/lociB/{1758 loci (cogenic)},2229/lociC/{259 loci (intergenic)},2256/lociD/{609 loci (0 stop)},2282/lociE/{341 loci (< 3 stops)},2325/astral/{ASTRAL-III equivalent (Figure 2)}}{
  \filldraw[fill=\col,draw=black!70,line width=0.3pt] (104,{\y-4}) rectangle (123,{\y+4});
  \node[legtext] (le\k) at (126,\y) {\txt};}
\foreach \y/\col/\txt [count=\k] in {2172/ufbG/{UFBs = 100},2198/ufbY/{95 ≤ UFBs < 100},2227/ufbO/{UFBs < 95},2255/ufbR/{Alternative topology}}{
  \fill[fill=\col] (315,{\y-8.5}) rectangle (331,{\y+8.5});
  \node[legtext] (lu\k) at (342,\y) {\txt};}
\draw[black!70, line width=0.4pt] (315,2274.5) rectangle (331,2291.5);
\node[legtext] (lu5) at (342,2283) {Not analyzed};
\node[anchor=west, inner sep=0pt, text=rhino, font=\fontsize{17.5}{20}\selectfont\bfseries] (pRhi) at (14,2368) {Previously defined “Rhinotermitidae”};
\node[anchor=west, inner sep=0pt, text=termitext, font=\fontsize{17.5}{20}\selectfont\bfseries] (pTer) at (14,2405) {Previously defined “Termitinae”};
\end{tikzpicture}
\end{document}
